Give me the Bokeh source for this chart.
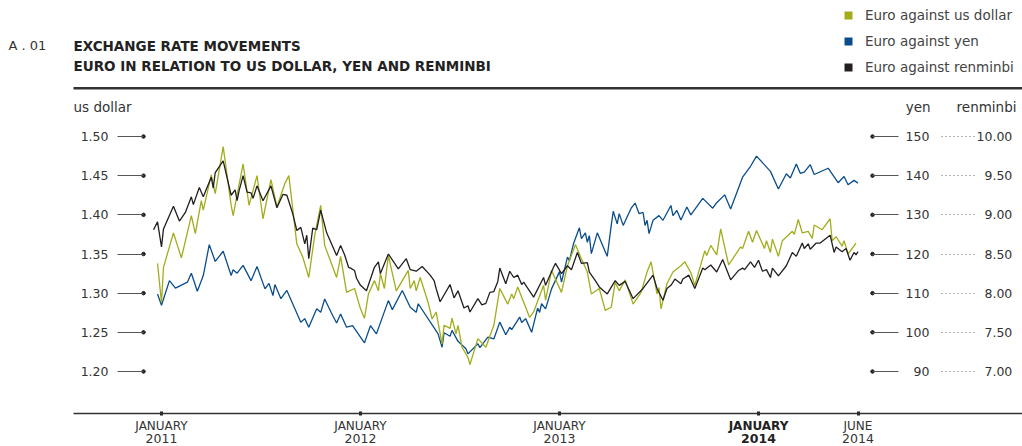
from bokeh.plotting import figure
from bokeh.models import (LinearAxis, Range1d, FixedTicker, Label, Legend, LegendItem,
                          Grid, BoxAnnotation)
from bokeh.embed import file_html
from bokeh.resources import INLINE

# ---------------- data ----------------
usd_x = [2010.98, 2011.00, 2011.01, 2011.06, 2011.10, 2011.15, 2011.17, 2011.20, 2011.21, 2011.25,
         2011.27, 2011.31, 2011.35, 2011.36, 2011.41, 2011.44, 2011.48, 2011.51, 2011.55, 2011.58,
         2011.62, 2011.64, 2011.68, 2011.71, 2011.74, 2011.77, 2011.80, 2011.82, 2011.88, 2011.90,
         2011.93, 2011.97, 2012.00, 2012.02, 2012.04, 2012.07, 2012.09, 2012.10, 2012.12, 2012.14,
         2012.18, 2012.24, 2012.25, 2012.27, 2012.28, 2012.30, 2012.34, 2012.36, 2012.38, 2012.41,
         2012.42, 2012.45, 2012.46, 2012.48, 2012.49, 2012.51, 2012.54, 2012.55, 2012.59, 2012.63,
         2012.67, 2012.70, 2012.74, 2012.76, 2012.77, 2012.79, 2012.85, 2012.87, 2012.92, 2012.93,
         2012.96, 2013.01, 2013.04, 2013.08, 2013.11, 2013.14, 2013.16, 2013.20, 2013.23, 2013.26,
         2013.28, 2013.30, 2013.33, 2013.37, 2013.41, 2013.44, 2013.46, 2013.49, 2013.50, 2013.51,
         2013.54, 2013.57, 2013.61, 2013.63, 2013.66, 2013.68, 2013.73, 2013.74, 2013.76, 2013.79,
         2013.81, 2013.85, 2013.91, 2013.92, 2013.95, 2013.97, 2013.99, 2014.03, 2014.04, 2014.06,
         2014.07, 2014.10, 2014.12, 2014.17, 2014.18, 2014.20, 2014.22, 2014.25, 2014.27, 2014.28,
         2014.32, 2014.36, 2014.37, 2014.39, 2014.42, 2014.43, 2014.45, 2014.49]
usd_y = [1.338, 1.288, 1.333, 1.377, 1.345, 1.399, 1.376, 1.418, 1.406, 1.451,
         1.427, 1.487, 1.412, 1.399, 1.465, 1.412, 1.450, 1.395, 1.445, 1.410,
         1.440, 1.450, 1.363, 1.346, 1.320, 1.374, 1.412, 1.361, 1.320, 1.347,
         1.301, 1.306, 1.280, 1.268, 1.299, 1.316, 1.303, 1.325, 1.306, 1.348,
         1.303, 1.329, 1.306, 1.316, 1.303, 1.320, 1.288, 1.267, 1.276, 1.235,
         1.259, 1.255, 1.268, 1.248, 1.259, 1.231, 1.218, 1.209, 1.242, 1.231,
         1.259, 1.306, 1.286, 1.299, 1.293, 1.308, 1.269, 1.276, 1.310, 1.291,
         1.329, 1.301, 1.335, 1.362, 1.344, 1.327, 1.299, 1.306, 1.278, 1.282,
         1.314, 1.303, 1.317, 1.286, 1.301, 1.327, 1.340, 1.299, 1.307, 1.280,
         1.312, 1.327, 1.335, 1.340, 1.326, 1.310, 1.354, 1.348, 1.361, 1.349,
         1.382, 1.336, 1.359, 1.357, 1.379, 1.365, 1.380, 1.357, 1.367, 1.352,
         1.369, 1.347, 1.367, 1.379, 1.375, 1.394, 1.377, 1.379, 1.370, 1.387,
         1.381, 1.395, 1.367, 1.372, 1.360, 1.367, 1.350, 1.364]

yen_x = [2010.98, 2011.00, 2011.04, 2011.07, 2011.13, 2011.15, 2011.18, 2011.21, 2011.24, 2011.27,
         2011.31, 2011.35, 2011.36, 2011.38, 2011.41, 2011.45, 2011.48, 2011.52, 2011.54, 2011.56,
         2011.57, 2011.60, 2011.63, 2011.70, 2011.72, 2011.74, 2011.78, 2011.80, 2011.82, 2011.86,
         2011.88, 2011.90, 2011.93, 2011.96, 2012.02, 2012.05, 2012.08, 2012.14, 2012.16, 2012.21,
         2012.25, 2012.28, 2012.29, 2012.39, 2012.41, 2012.42, 2012.45, 2012.46, 2012.49, 2012.53,
         2012.54, 2012.59, 2012.60, 2012.64, 2012.67, 2012.70, 2012.73, 2012.75, 2012.76, 2012.80,
         2012.81, 2012.83, 2012.86, 2012.89, 2012.90, 2012.91, 2012.93, 2012.96, 2013.00, 2013.01,
         2013.04, 2013.05, 2013.07, 2013.10, 2013.11, 2013.13, 2013.14, 2013.15, 2013.16, 2013.19,
         2013.23, 2013.24, 2013.26, 2013.27, 2013.29, 2013.30, 2013.32, 2013.36, 2013.38, 2013.40,
         2013.42, 2013.43, 2013.44, 2013.45, 2013.47, 2013.50, 2013.52, 2013.56, 2013.57, 2013.59,
         2013.61, 2013.64, 2013.66, 2013.72, 2013.77, 2013.79, 2013.83, 2013.86, 2013.92, 2013.96,
         2013.99, 2014.06, 2014.10, 2014.14, 2014.16, 2014.19, 2014.21, 2014.23, 2014.26, 2014.28,
         2014.35, 2014.40, 2014.43, 2014.45, 2014.48, 2014.50]
yen_y = [109.8, 106.9, 113.2, 111.3, 112.8, 115.1, 110.5, 114.5, 122.4, 118.1,
         120.7, 114.5, 116.0, 115.1, 117.1, 113.2, 116.8, 111.1, 112.5, 109.4,
         112.2, 108.6, 110.7, 102.6, 103.5, 101.3, 106.0, 105.1, 108.5, 104.3,
         102.4, 104.7, 101.3, 101.7, 97.3, 101.7, 99.6, 108.1, 105.8, 110.7,
         106.4, 105.1, 107.3, 99.6, 96.2, 99.9, 99.0, 100.5, 97.7, 95.8,
         94.5, 97.1, 96.1, 98.8, 98.3, 102.6, 99.4, 101.3, 100.7, 103.9,
         102.5, 103.5, 100.0, 106.2, 105.1, 107.3, 106.0, 111.1, 115.5, 112.8,
         119.2, 118.3, 122.6, 126.7, 123.9, 125.4, 123.0, 124.7, 120.1, 125.4,
         120.6, 119.4, 127.3, 130.9, 127.7, 130.3, 127.3, 131.7, 133.0, 130.3,
         130.6, 127.3, 128.6, 125.2, 128.6, 129.8, 128.6, 132.4, 129.8, 131.1,
         128.7, 132.0, 130.0, 134.2, 131.7, 133.1, 135.1, 131.5, 139.6, 142.4,
         145.0, 141.1, 136.6, 140.5, 139.4, 143.0, 140.6, 140.9, 142.8, 140.3,
         141.9, 138.2, 139.8, 137.7, 138.8, 138.1]

rmb_x = [2010.96, 2010.98, 2011.00, 2011.01, 2011.06, 2011.09, 2011.12, 2011.15, 2011.16, 2011.19,
         2011.21, 2011.25, 2011.26, 2011.27, 2011.31, 2011.35, 2011.37, 2011.38, 2011.39, 2011.41,
         2011.43, 2011.45, 2011.46, 2011.48, 2011.51, 2011.55, 2011.58, 2011.61, 2011.63, 2011.66,
         2011.68, 2011.70, 2011.72, 2011.73, 2011.74, 2011.76, 2011.78, 2011.80, 2011.83, 2011.88,
         2011.90, 2011.92, 2011.94, 2011.95, 2011.97, 2011.98, 2012.00, 2012.03, 2012.07, 2012.09,
         2012.10, 2012.14, 2012.19, 2012.23, 2012.25, 2012.28, 2012.31, 2012.35, 2012.37, 2012.38,
         2012.40, 2012.45, 2012.47, 2012.49, 2012.52, 2012.54, 2012.55, 2012.59, 2012.61, 2012.63,
         2012.65, 2012.67, 2012.69, 2012.70, 2012.73, 2012.75, 2012.77, 2012.79, 2012.81, 2012.82,
         2012.87, 2012.92, 2012.93, 2012.97, 2012.98, 2013.01, 2013.04, 2013.06, 2013.09, 2013.11,
         2013.14, 2013.15, 2013.18, 2013.20, 2013.24, 2013.28, 2013.30, 2013.33, 2013.37, 2013.42,
         2013.47, 2013.49, 2013.52, 2013.54, 2013.56, 2013.58, 2013.61, 2013.62, 2013.65, 2013.68,
         2013.72, 2013.73, 2013.76, 2013.79, 2013.82, 2013.86, 2013.90, 2013.92, 2013.93, 2013.96,
         2013.98, 2014.00, 2014.02, 2014.04, 2014.06, 2014.07, 2014.10, 2014.14, 2014.17, 2014.19,
         2014.22, 2014.23, 2014.25, 2014.26, 2014.29, 2014.31, 2014.36, 2014.38, 2014.39, 2014.42,
         2014.44, 2014.46, 2014.48, 2014.49, 2014.50]
rmb_y = [8.81, 8.91, 8.59, 8.82, 9.11, 8.92, 9.03, 9.23, 9.13, 9.35,
         9.23, 9.48, 9.34, 9.54, 9.69, 9.25, 9.32, 9.18, 9.31, 9.50,
         9.29, 9.28, 9.21, 9.37, 9.18, 9.37, 9.09, 9.26, 9.25, 9.01,
         8.80, 8.84, 8.63, 8.74, 8.44, 8.83, 8.81, 9.06, 8.77, 8.48,
         8.61, 8.49, 8.33, 8.32, 8.29, 8.19, 8.10, 8.03, 8.33, 8.40,
         8.25, 8.50, 8.31, 8.44, 8.30, 8.28, 8.34, 8.23, 8.16, 8.06,
         7.89, 8.11, 7.94, 8.03, 7.81, 7.84, 7.76, 7.93, 7.85, 7.87,
         8.01, 8.02, 8.15, 8.32, 8.12, 8.28, 8.20, 8.23, 8.11, 8.14,
         7.95, 8.20, 8.10, 8.33, 8.38, 8.25, 8.35, 8.30, 8.52, 8.38,
         8.39, 8.27, 8.16, 8.08, 7.99, 8.16, 8.10, 8.15, 7.93, 8.06,
         8.23, 8.06, 7.91, 8.06, 8.10, 8.18, 8.12, 8.18, 8.23, 8.06,
         8.32, 8.30, 8.36, 8.27, 8.43, 8.17, 8.29, 8.32, 8.30, 8.40,
         8.33, 8.42, 8.28, 8.30, 8.20, 8.32, 8.22, 8.35, 8.52, 8.47,
         8.64, 8.57, 8.63, 8.56, 8.64, 8.64, 8.74, 8.52, 8.59, 8.53,
         8.57, 8.42, 8.52, 8.49, 8.53]

x_ticks = [2011.0, 2012.0, 2013.0, 2014.0, 2014.5]
x_month_labels = ["JANUARY", "JANUARY", "JANUARY", " ", "JUNE"]
x_year_ticks = [2011.0, 2012.0, 2013.0, 2014.5]
x_year_labels = ["2011", "2012", "2013", "2014"]
x_bold_tick = [2014.0]
x_bold_month = ["JANUARY"]
x_bold_year = ["2014"]
usd_ticks = [1.20, 1.25, 1.30, 1.35, 1.40, 1.45, 1.50]
usd_tick_labels = ["1.20", "1.25", "1.30", "1.35", "1.40", "1.45", "1.50"]
yen_ticks = [90, 100, 110, 120, 130, 140, 150]
yen_tick_labels = ["\u200790", "100", "110", "120", "130", "140", "150"]
rmb_ticks = [7.0, 7.5, 8.0, 8.5, 9.0, 9.5, 10.0]
rmb_tick_labels = ["\u20077.00", "\u20077.50", "\u20078.00", "\u20078.50", "\u20079.00", "\u20079.50", "10.00"]
series_names = ["Euro against us dollar", "Euro against yen", "Euro against renminbi"]

# ---------------- styling / geometry ----------------
OLIVE = "#a2ad1c"
BLUE = "#0a4d8a"
BLACK = "#231f20"
FONT = "DejaVu Sans"
W, H = 1022, 446
AXIS_Y = 413      # bottom axis line, page pixels


def xd(px):
    return 2011 + (px - 161) / 199.0


def yd(py):
    return 1.50 - (py - 136) * 0.30 / 235.0


def yd_yen(py):
    return 150 - (py - 136) * 60.0 / 235.0


def yd_rmb(py):
    return 10.0 - (py - 136) * 3.0 / 235.0


p = figure(width=W, height=H, output_backend="svg", toolbar_location=None,
           x_axis_location=None, y_axis_location=None,
           x_range=Range1d(xd(0), xd(W)), y_range=Range1d(yd(H), yd(0)),
           min_border_left=0, min_border_right=0, min_border_top=0, min_border_bottom=0,
           outline_line_color=None, background_fill_color="white",
           border_fill_color="white")
p.center = [c for c in p.center if not isinstance(c, Grid)]
p.extra_y_ranges = {"yen": Range1d(yd_yen(H), yd_yen(0)),
                    "rmb": Range1d(yd_rmb(H), yd_rmb(0))}

common = dict(axis_line_color=None, major_tick_in=0, minor_tick_line_color=None,
              major_label_text_font=FONT, major_label_text_font_size="12.5px",
              major_label_text_color="#333")

ax_usd = LinearAxis(ticker=FixedTicker(ticks=usd_ticks),
                    major_label_overrides=dict(zip(usd_ticks, usd_tick_labels)),
                    fixed_location=xd(143), major_tick_out=26,
                    major_tick_line_color="#555", major_label_standoff=9, **common)
p.add_layout(ax_usd, "left")

ax_yen = LinearAxis(y_range_name="yen", ticker=FixedTicker(ticks=yen_ticks),
                    major_label_overrides=dict(zip(yen_ticks, yen_tick_labels)),
                    fixed_location=xd(872), major_tick_out=26,
                    major_tick_line_color="#555", major_label_standoff=7, **common)
p.add_layout(ax_yen, "right")

ax_rmb = LinearAxis(y_range_name="rmb", ticker=FixedTicker(ticks=rmb_ticks),
                    major_label_overrides=dict(zip(rmb_ticks, rmb_tick_labels)),
                    fixed_location=xd(940), major_tick_out=34,
                    major_tick_line_color="#666", major_tick_line_dash="1 3",
                    major_label_standoff=2, **common)
p.add_layout(ax_rmb, "right")


def x_axis(ticks, labels, standoff, size, bold=False, tick_out=0, tick_color=None):
    ax = LinearAxis(ticker=FixedTicker(ticks=ticks),
                    major_label_overrides=dict(zip(ticks, labels)),
                    fixed_location=yd(AXIS_Y), axis_line_color=None,
                    major_tick_out=tick_out, major_tick_in=tick_out,
                    major_tick_line_width=3, major_tick_line_color=tick_color,
                    minor_tick_line_color=None, major_label_standoff=standoff,
                    major_label_text_font=FONT, major_label_text_font_size=f"{size}px",
                    major_label_text_font_style="bold" if bold else "normal",
                    major_label_text_color="#222" if bold else "#333")
    p.add_layout(ax, "below")


x_axis(x_ticks, x_month_labels, 3, 12, tick_out=2, tick_color="#222")
x_axis(x_year_ticks, x_year_labels, 20, 12.5)
x_axis(x_bold_tick, x_bold_month, 5, 12, bold=True)
x_axis(x_bold_tick, x_bold_year, 20, 12.5, bold=True)

# horizontal rules (title rule and bottom axis line)
p.add_layout(BoxAnnotation(left=xd(73), right=xd(W), top=yd(86.5), bottom=yd(89),
                           fill_color="#333", fill_alpha=1, line_color=None))
p.add_layout(BoxAnnotation(left=xd(73), right=xd(W), top=yd(AXIS_Y - 0.75),
                           bottom=yd(AXIS_Y + 0.75),
                           fill_color="#333", fill_alpha=1, line_color=None))

# tick end dots
p.scatter(x=[xd(143)] * len(usd_ticks), y=usd_ticks, size=3.5, color="#222")
p.scatter(x=[xd(872)] * len(yen_ticks), y=yen_ticks, size=3.5, color="#222",
          y_range_name="yen")

# series
p.line(yen_x, yen_y, y_range_name="yen", line_color=BLUE, line_width=1.3)
p.line(usd_x, usd_y, line_color=OLIVE, line_width=1.3)
p.line(rmb_x, rmb_y, y_range_name="rmb", line_color=BLACK, line_width=1.3)

# legend swatches: zero-size square markers on each series (only the legend shows them)
leg_usd = p.scatter(usd_x, usd_y, marker="square", size=0, fill_color=OLIVE, line_color=None)
leg_yen = p.scatter(yen_x, yen_y, marker="square", size=0, fill_color=BLUE, line_color=None,
                    y_range_name="yen")
leg_rmb = p.scatter(rmb_x, rmb_y, marker="square", size=0, fill_color=BLACK, line_color=None,
                    y_range_name="rmb")
legend = Legend(items=[LegendItem(label=n, renderers=[r])
                       for n, r in zip(series_names, (leg_usd, leg_yen, leg_rmb))],
                location=(838, H - 77), orientation="vertical",
                padding=0, margin=0, spacing=6, glyph_width=20, glyph_height=20,
                label_height=20, label_standoff=7, label_text_font=FONT,
                label_text_font_size="13.5px", label_text_color="#444",
                border_line_color=None, background_fill_alpha=0)
p.add_layout(legend)


def text(t, px, py, size, bold=False, align="left", color="#333"):
    p.add_layout(Label(x=xd(px), y=yd(py), text=t, text_font=FONT,
                       text_font_size=f"{size}px",
                       text_font_style="bold" if bold else "normal",
                       text_align=align, text_baseline="middle", text_color=color))


text("A . 01", 8, 45, 13, color="#333")
text("EXCHANGE RATE MOVEMENTS", 73, 45, 13.5, bold=True, color="#222")
text("EURO IN RELATION TO US DOLLAR, YEN AND RENMINBI", 73, 65, 13.5, bold=True, color="#222")
text("us dollar", 73, 106, 13.5)
text("yen", 930, 106, 13.5, align="right")
text("renminbi", 1016, 106, 13.5, align="right")

open("out.html", "w").write(file_html(p, INLINE))
